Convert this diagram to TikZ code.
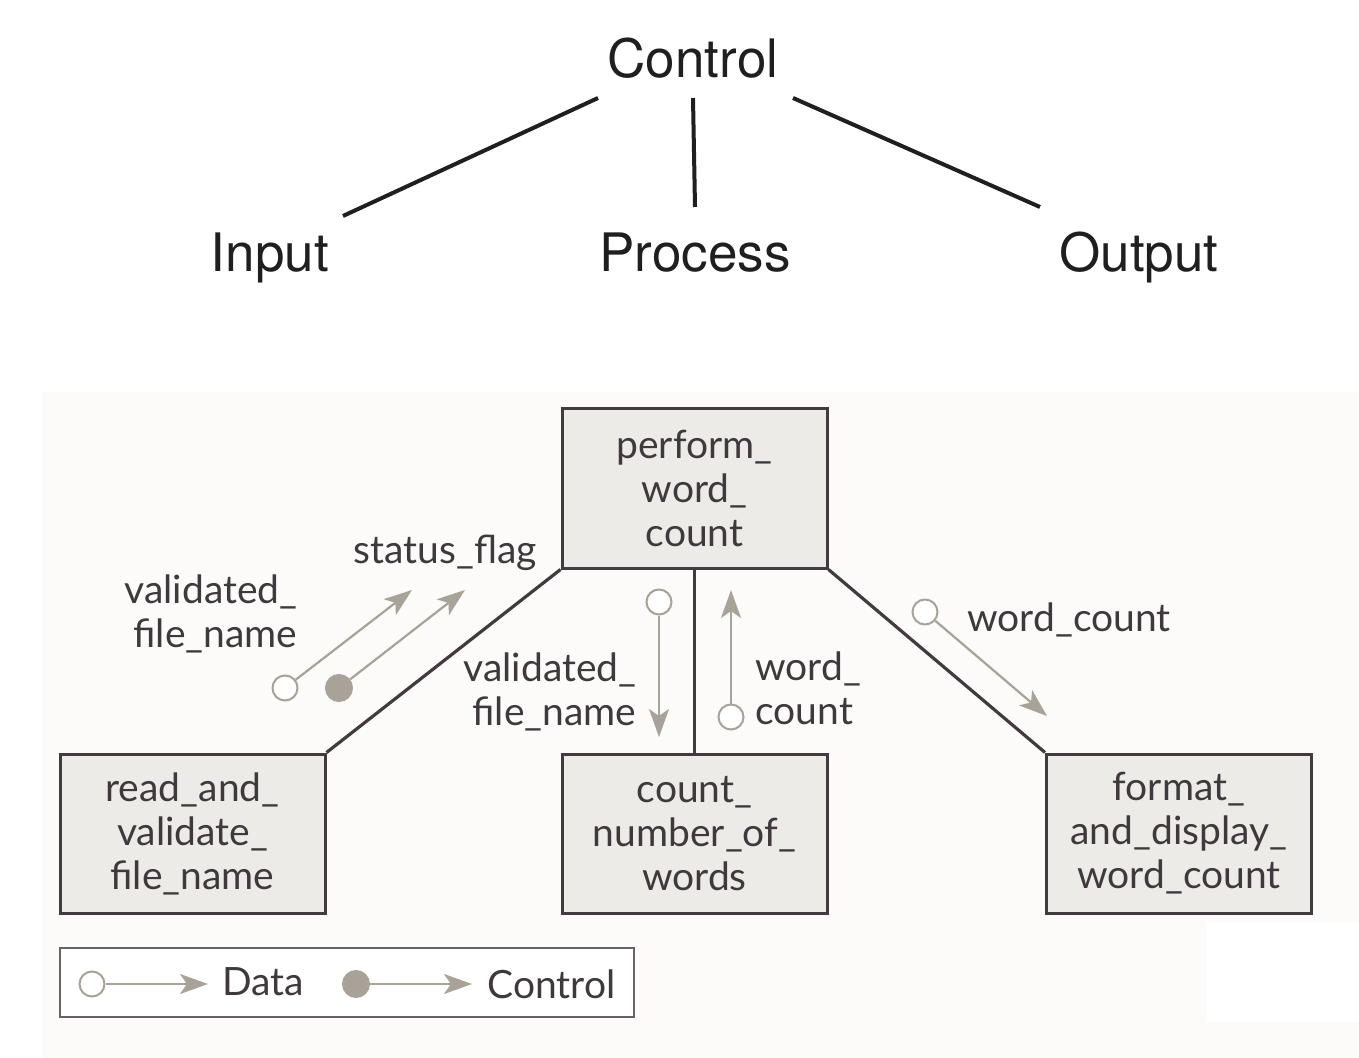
\documentclass[tikz,border=0pt]{standalone}
\usepackage{fontspec}
\setmainfont{TeX Gyre Heros}
\newfontfamily\latofont{Lato}
\usetikzlibrary{arrows.meta}
\definecolor{boxfill}{HTML}{EDEBE8}
\definecolor{boxline}{HTML}{433A3F}
\definecolor{arrowgrey}{HTML}{A8A298}
\definecolor{txt}{HTML}{3F393D}
\definecolor{panel}{HTML}{FCFBFA}
\definecolor{legline}{HTML}{6A6065}
\begin{document}
\begin{tikzpicture}[x=0.5pt,y=-0.5pt,
  toplbl/.style={font=\fontsize{26.5}{32}\selectfont, text=black!88, inner sep=0, anchor=base},
  topline/.style={line width=2pt, draw=black!88},
  procbox/.style={draw=boxline, fill=boxfill, line width=1.5pt, minimum width=132.5pt,
    minimum height=79.5pt, inner sep=0, align=center, text=txt,
    font=\latofont\fontsize{19.5}{22}\selectfont},
  conn/.style={draw=boxline, line width=1.6pt},
  lbl/.style={font=\latofont\fontsize{19.5}{22}\selectfont, text=txt, inner sep=0},
  dcirc/.style={circle, draw=arrowgrey, fill=white, line width=1pt, minimum size=12.5pt, inner sep=0},
  ccirc/.style={circle, draw=arrowgrey, fill=arrowgrey, line width=1pt, minimum size=13pt, inner sep=0},
  flow/.style={draw=arrowgrey, line width=1.1pt, -{Stealth[length=14pt,width=10pt,inset=3.5pt]}},
  legbox/.style={draw=legline, fill=white, line width=1.2pt, minimum width=287pt, minimum height=34.5pt, inner sep=0}
]
\useasboundingbox (0,0) rectangle (1359,1058);
\fill[white] (0,0) rectangle (1359,1058);
% bottom panel
\fill[panel] (42,392) rectangle (1359,1058);
\fill[white] (1207,923) rectangle (1359,1022);

% ---- top hierarchy ----
\node[toplbl] (control) at (693,78) {Control};
\node[toplbl] (input) at (270,272) {Input};
\node[toplbl] (process) at (695,272) {Process};
\node[toplbl] (output) at (1139,272) {Output};
\coordinate (t1) at (598,98);
\coordinate (t2) at (693,98);
\coordinate (t3) at (793,98);
\coordinate (b1) at (343,216);
\coordinate (b2) at (695,207);
\coordinate (b3) at (1040,207);
\draw[topline] (t1) -- (b1);
\draw[topline] (t2) -- (b2);
\draw[topline] (t3) -- (b3);

% ---- structure chart ----
\node[procbox] (perf) at (694.5,488.5) {perform\_\\word\_\\count};
\node[procbox] (read) at (192.5,833.5) {read\_and\_\\validate\_\\file\_name};
\node[procbox] (cnt) at (694.5,833.5) {count\_\\number\_of\_\\words};
\node[procbox] (fmt) at (1179,833.5) {format\_\\and\_display\_\\word\_count};

\draw[conn] (perf.south west) -- (read.north east);
\draw[conn] (perf.south) -- (cnt.north);
\draw[conn] (perf.south east) -- (fmt.north west);

% labels
\node[lbl, align=right] (lvfn1) at (211,614) {validated\_\\file\_name};
\node[lbl] (lsf) at (445,553) {status\_flag};
\node[lbl, align=right] (lvfn2) at (550,692) {validated\_\\file\_name};
\node[lbl, align=left, anchor=west] (lwc1) at (755,688) {word\_\\count};
\node[lbl, anchor=west] (lwc2) at (967,620) {word\_count};

% data / control couples
\node[dcirc] (d1) at (285,688) {};
\coordinate (e1) at (412,590);
\draw[flow] (d1) -- (e1);
\node[ccirc] (c1) at (339,688) {};
\coordinate (e2) at (465,590);
\draw[flow] (c1) -- (e2);
\node[dcirc] (d2) at (659,602) {};
\coordinate (e3) at (659,737);
\draw[flow] (d2) -- (e3);
\node[dcirc] (d3) at (731,717) {};
\coordinate (e4) at (731,590);
\draw[flow] (d3) -- (e4);
\node[dcirc] (d4) at (925,612) {};
\coordinate (e5) at (1047,716);
\draw[flow] (d4) -- (e5);

% legend
\node[legbox] (leg) at (347,982.5) {};
\node[dcirc] (ld) at (92,984) {};
\coordinate (le1) at (208,984);
\draw[flow] (ld) -- (le1);
\node[lbl, anchor=west] (ldata) at (222,982) {Data};
\node[ccirc] (lc) at (356,984) {};
\coordinate (le2) at (472,984);
\draw[flow] (lc) -- (le2);
\node[lbl, anchor=west] (lctrl) at (487,984) {Control};
\end{tikzpicture}
\end{document}
